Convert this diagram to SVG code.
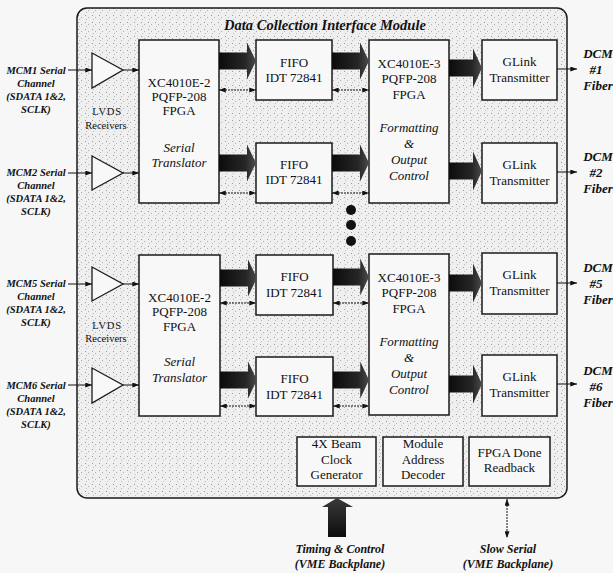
<svg xmlns="http://www.w3.org/2000/svg" xmlns:xlink="http://www.w3.org/1999/xlink" width="613" height="573" viewBox="0 0 613 573">
<style>
  .box{fill:#f8f8f8;stroke:#1a1a1a;stroke-width:1.5}
  .t{font-family:"Liberation Serif","Times New Roman",serif;font-size:13px;fill:#111;text-anchor:middle}
  .ti{font-family:"Liberation Serif","Times New Roman",serif;font-size:13px;font-style:italic;fill:#111;text-anchor:middle}
  .lbl{font-family:"Liberation Serif","Times New Roman",serif;font-weight:bold;font-style:italic;font-size:10.5px;fill:#111;text-anchor:middle}
  .rl{font-family:"Liberation Serif","Times New Roman",serif;font-weight:bold;font-style:italic;font-size:13px;fill:#111;text-anchor:middle}
  .bl{font-family:"Liberation Serif","Times New Roman",serif;font-weight:bold;font-style:italic;font-size:12px;fill:#111;text-anchor:middle}
  .lv{font-family:"Liberation Serif","Times New Roman",serif;font-size:10.5px;fill:#111;text-anchor:middle}
  .ln{stroke:#111;stroke-width:1;fill:none}
  .dl{stroke:#111;stroke-width:1;stroke-dasharray:2 1;fill:none}
  .big{fill:url(#dark)}
  .tri{fill:#f8f8f8;stroke:#1a1a1a;stroke-width:1.3}
</style>
<defs>
  <pattern id="stipple" width="7" height="7" patternUnits="userSpaceOnUse">
    <rect width="7" height="7" fill="#efefef"/>
    <rect x="1" y="1" width="1" height="1" fill="#9a9a9a"/>
    <rect x="4" y="3" width="1" height="1" fill="#b0b0b0"/>
    <rect x="2" y="5" width="1" height="1" fill="#bcbcbc"/>
  </pattern>
  <linearGradient id="dark" x1="0" y1="0" x2="1" y2="0">
    <stop offset="0" stop-color="#0c0c0c"/>
    <stop offset="0.7" stop-color="#262626"/>
    <stop offset="1" stop-color="#4a4a4a"/>
  </linearGradient>
  <linearGradient id="darkv" x1="0" y1="0" x2="0" y2="1">
    <stop offset="0" stop-color="#3a3a3a"/>
    <stop offset="1" stop-color="#0c0c0c"/>
  </linearGradient>
  <marker id="ah" viewBox="0 0 8 6" refX="8" refY="3" markerWidth="7" markerHeight="5" orient="auto-start-reverse" markerUnits="userSpaceOnUse">
    <path d="M0,0 L8,3 L0,6 z" fill="#111"/>
  </marker>
  <path id="ba" d="M0,-8.5 H28 V-18.5 L37,0 L28,18.5 V8.5 H0 Z"/>
  <path id="bb" d="M0,-8.5 H24 V-19.5 L33,0 L24,19.5 V8.5 H0 Z"/>
</defs>

<rect width="613" height="573" fill="#f7f7f7"/>

<g id="module">
  <rect x="77" y="8" width="490" height="490" rx="10" fill="url(#stipple)" stroke="#1a1a1a" stroke-width="1.5"/>
  <text x="325" y="30" style="font-family:'Liberation Serif','Times New Roman',serif;font-weight:bold;font-style:italic;font-size:14.5px;fill:#111" text-anchor="middle">Data Collection Interface Module</text>
</g>

<g id="inputs-labels">
  <g id="mcm1"><text class="lbl" x="36" y="74">MCM1 Serial</text><text class="lbl" x="36" y="87">Channel</text><text class="lbl" x="36" y="100">(SDATA 1&amp;2,</text><text class="lbl" x="36" y="113">SCLK)</text></g>
  <g id="mcm2"><text class="lbl" x="36" y="176">MCM2 Serial</text><text class="lbl" x="36" y="189">Channel</text><text class="lbl" x="36" y="202">(SDATA 1&amp;2,</text><text class="lbl" x="36" y="215">SCLK)</text></g>
  <g id="mcm5"><text class="lbl" x="36" y="287">MCM5 Serial</text><text class="lbl" x="36" y="300">Channel</text><text class="lbl" x="36" y="313">(SDATA 1&amp;2,</text><text class="lbl" x="36" y="326">SCLK)</text></g>
  <g id="mcm6"><text class="lbl" x="36" y="389">MCM6 Serial</text><text class="lbl" x="36" y="402">Channel</text><text class="lbl" x="36" y="415">(SDATA 1&amp;2,</text><text class="lbl" x="36" y="428">SCLK)</text></g>
</g>

<g id="receivers">
  <polygon class="tri" points="92,53 92,88 123,70"/>
  <polygon class="tri" points="92,156 92,190 123,173"/>
  <polygon class="tri" points="92,267 92,301 123,284"/>
  <polygon class="tri" points="92,368 92,403 123,385"/>
  <text class="lv" x="107" y="115" letter-spacing="0.8">LVDS</text>
  <text class="lv" x="106" y="129">Receivers</text>
  <text class="lv" x="107" y="329" letter-spacing="0.8">LVDS</text>
  <text class="lv" x="106" y="342">Receivers</text>
</g>

<g id="fpga-st-1">
  <rect class="box" x="139" y="40" width="80" height="163"/>
  <text class="t" x="179" y="87">XC4010E-2</text>
  <text class="t" x="179" y="101">PQFP-208</text>
  <text class="t" x="179" y="115">FPGA</text>
  <text class="ti" x="179" y="152">Serial</text>
  <text class="ti" x="179" y="167">Translator</text>
</g>
<g id="fpga-st-2">
  <rect class="box" x="139" y="255" width="81" height="161"/>
  <text class="t" x="179.5" y="302">XC4010E-2</text>
  <text class="t" x="179.5" y="316">PQFP-208</text>
  <text class="t" x="179.5" y="331">FPGA</text>
  <text class="ti" x="179.5" y="366">Serial</text>
  <text class="ti" x="179.5" y="382">Translator</text>
</g>

<g id="fifo-1"><rect class="box" x="256" y="40" width="76" height="60"/><text class="t" x="294" y="67">FIFO</text><text class="t" x="294" y="82">IDT 72841</text></g>
<g id="fifo-2"><rect class="box" x="256" y="143" width="76" height="60"/><text class="t" x="294" y="169">FIFO</text><text class="t" x="294" y="184">IDT 72841</text></g>
<g id="fifo-3"><rect class="box" x="256" y="255" width="77" height="60"/><text class="t" x="294.5" y="281">FIFO</text><text class="t" x="294.5" y="297">IDT 72841</text></g>
<g id="fifo-4"><rect class="box" x="256" y="357" width="77" height="59"/><text class="t" x="294.5" y="383">FIFO</text><text class="t" x="294.5" y="399">IDT 72841</text></g>

<g id="fpga-fo-1">
  <rect class="box" x="369" y="40" width="80" height="163"/>
  <text class="t" x="409" y="68">XC4010E-3</text>
  <text class="t" x="409" y="83">PQFP-208</text>
  <text class="t" x="409" y="99">FPGA</text>
  <text class="ti" x="409" y="132">Formatting</text>
  <text class="ti" x="409" y="148">&amp;</text>
  <text class="ti" x="409" y="164">Output</text>
  <text class="ti" x="409" y="180">Control</text>
</g>
<g id="fpga-fo-2">
  <rect class="box" x="369" y="254" width="80" height="161"/>
  <text class="t" x="409" y="282">XC4010E-3</text>
  <text class="t" x="409" y="297">PQFP-208</text>
  <text class="t" x="409" y="313">FPGA</text>
  <text class="ti" x="409" y="346">Formatting</text>
  <text class="ti" x="409" y="362">&amp;</text>
  <text class="ti" x="409" y="378">Output</text>
  <text class="ti" x="409" y="394">Control</text>
</g>

<g id="glink-1"><rect class="box" x="482" y="40" width="75" height="60"/><text class="t" x="519.5" y="66">GLink</text><text class="t" x="519.5" y="82">Transmitter</text></g>
<g id="glink-2"><rect class="box" x="482" y="143" width="75" height="60"/><text class="t" x="519.5" y="169">GLink</text><text class="t" x="519.5" y="185">Transmitter</text></g>
<g id="glink-3"><rect class="box" x="482" y="253" width="75" height="61"/><text class="t" x="519.5" y="279">GLink</text><text class="t" x="519.5" y="295">Transmitter</text></g>
<g id="glink-4"><rect class="box" x="482" y="355" width="75" height="61"/><text class="t" x="519.5" y="381">GLink</text><text class="t" x="519.5" y="397">Transmitter</text></g>

<g id="clockgen"><rect class="box" x="297" y="437" width="79" height="49"/><text class="t" x="336.5" y="448">4X Beam</text><text class="t" x="336.5" y="464">Clock</text><text class="t" x="336.5" y="479">Generator</text></g>
<g id="addrdec"><rect class="box" x="383" y="437" width="80" height="49"/><text class="t" x="423" y="448">Module</text><text class="t" x="423" y="464">Address</text><text class="t" x="423" y="479">Decoder</text></g>
<g id="donereadback"><rect class="box" x="469" y="437" width="81" height="49"/><text class="t" x="509.5" y="457">FPGA Done</text><text class="t" x="509.5" y="472">Readback</text></g>

<g id="ellipsis">
  <circle cx="351" cy="210" r="5" fill="#111"/>
  <circle cx="351" cy="225" r="5" fill="#111"/>
  <circle cx="351" cy="241" r="5" fill="#111"/>
</g>

<g id="outputs-labels">
  <g id="dcm1"><text class="rl" x="598" y="58">DCM</text><text class="rl" x="596" y="74">#1</text><text class="rl" x="598" y="90">Fiber</text></g>
  <g id="dcm2"><text class="rl" x="598" y="161">DCM</text><text class="rl" x="596" y="177">#2</text><text class="rl" x="598" y="193">Fiber</text></g>
  <g id="dcm5"><text class="rl" x="598" y="272">DCM</text><text class="rl" x="596" y="288">#5</text><text class="rl" x="598" y="304">Fiber</text></g>
  <g id="dcm6"><text class="rl" x="598" y="375">DCM</text><text class="rl" x="596" y="391">#6</text><text class="rl" x="598" y="407">Fiber</text></g>
</g>

<g id="bottom-labels">
  <text class="bl" x="340" y="553">Timing &amp; Control</text>
  <text class="bl" x="340" y="568">(VME Backplane)</text>
  <text class="bl" x="508" y="553">Slow Serial</text>
  <text class="bl" x="508" y="568">(VME Backplane)</text>
</g>

<g id="connectors">
  <line class="ln" x1="68" y1="70" x2="92" y2="70" marker-end="url(#ah)"/>
  <line class="ln" x1="68" y1="173" x2="92" y2="173" marker-end="url(#ah)"/>
  <line class="ln" x1="68" y1="284" x2="92" y2="284" marker-end="url(#ah)"/>
  <line class="ln" x1="68" y1="385" x2="92" y2="385" marker-end="url(#ah)"/>
  <line class="ln" x1="123" y1="70" x2="139" y2="70" marker-end="url(#ah)"/>
  <line class="ln" x1="123" y1="173" x2="139" y2="173" marker-end="url(#ah)"/>
  <line class="ln" x1="123" y1="284" x2="139" y2="284" marker-end="url(#ah)"/>
  <line class="ln" x1="123" y1="385" x2="139" y2="385" marker-end="url(#ah)"/>
  <use href="#ba" class="big" transform="translate(219,61)"/>
  <use href="#ba" class="big" transform="translate(219,163)"/>
  <use href="#ba" class="big" transform="translate(220,278)"/>
  <use href="#ba" class="big" transform="translate(220,380)"/>
  <use href="#ba" class="big" transform="translate(332,61)"/>
  <use href="#ba" class="big" transform="translate(332,163)"/>
  <use href="#ba" class="big" transform="translate(333,277) scale(0.973,1)"/>
  <use href="#ba" class="big" transform="translate(333,380) scale(0.973,1)"/>
  <use href="#bb" class="big" transform="translate(449,68)"/>
  <use href="#bb" class="big" transform="translate(449,171)"/>
  <use href="#bb" class="big" transform="translate(449,283)"/>
  <use href="#bb" class="big" transform="translate(449,384)"/>
  <line class="dl" x1="219" y1="90" x2="256" y2="90" marker-start="url(#ah)" marker-end="url(#ah)"/>
  <line class="dl" x1="332" y1="90" x2="369" y2="90" marker-start="url(#ah)" marker-end="url(#ah)"/>
  <line class="dl" x1="219" y1="193" x2="256" y2="193" marker-start="url(#ah)" marker-end="url(#ah)"/>
  <line class="dl" x1="332" y1="193" x2="369" y2="193" marker-start="url(#ah)" marker-end="url(#ah)"/>
  <line class="dl" x1="220" y1="303" x2="256" y2="303" marker-start="url(#ah)" marker-end="url(#ah)"/>
  <line class="dl" x1="333" y1="303" x2="369" y2="303" marker-start="url(#ah)" marker-end="url(#ah)"/>
  <line class="dl" x1="220" y1="406" x2="256" y2="406" marker-start="url(#ah)" marker-end="url(#ah)"/>
  <line class="dl" x1="333" y1="406" x2="369" y2="406" marker-start="url(#ah)" marker-end="url(#ah)"/>
  <line class="ln" x1="557" y1="69" x2="577" y2="69" marker-end="url(#ah)"/>
  <line class="ln" x1="557" y1="172" x2="577" y2="172" marker-end="url(#ah)"/>
  <line class="ln" x1="557" y1="283" x2="577" y2="283" marker-end="url(#ah)"/>
  <line class="ln" x1="557" y1="384" x2="577" y2="384" marker-end="url(#ah)"/>
  <polygon points="322,507 337,498 353,507 346,507 346,537 328,537 328,507" fill="url(#darkv)"/>
  <line class="dl" x1="507" y1="499" x2="507" y2="538" marker-start="url(#ah)" marker-end="url(#ah)"/>
</g>
</svg>
